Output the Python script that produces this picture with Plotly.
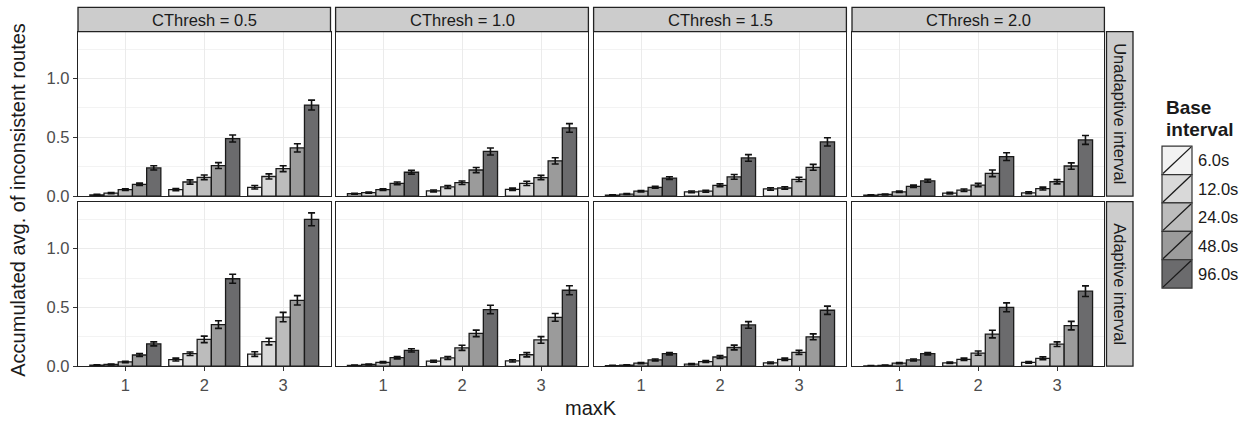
import plotly.graph_objects as go

W, H = 1247, 429

max_k = [1, 2, 3]
cthresh_labels = ["CThresh = 0.5", "CThresh = 1.0", "CThresh = 1.5", "CThresh = 2.0"]
row_labels = ["Unadaptive interval", "Adaptive interval"]
intervals = ["6.0s", "12.0s", "24.0s", "48.0s", "96.0s"]
fill_colors = ["#f2f2f2", "#d9d9d9", "#bcbcbc", "#9b9b9b", "#6b6b6d"]
y_ticks = [0.0, 0.5, 1.0]
y_tick_text = ["0.0", "0.5", "1.0"]

# mean values: one list per base interval, over maxK = 1, 2, 3
unadapt_c05 = [[0.011, 0.055, 0.075], [0.025, 0.12, 0.167], [0.055, 0.16, 0.233], [0.10, 0.26, 0.41], [0.24, 0.49, 0.775]]
unadapt_c10 = [[0.02, 0.044, 0.058], [0.03, 0.078, 0.108], [0.055, 0.114, 0.158], [0.108, 0.222, 0.30], [0.203, 0.38, 0.58]]
unadapt_c15 = [[0.008, 0.036, 0.061], [0.017, 0.042, 0.069], [0.042, 0.092, 0.142], [0.075, 0.164, 0.245], [0.153, 0.325, 0.461]]
unadapt_c20 = [[0.008, 0.025, 0.028], [0.014, 0.05, 0.064], [0.036, 0.094, 0.122], [0.083, 0.194, 0.256], [0.13, 0.336, 0.478]]
adapt_c05 = [[0.008, 0.056, 0.103], [0.014, 0.106, 0.209], [0.036, 0.228, 0.418], [0.095, 0.354, 0.56], [0.19, 0.744, 1.25]]
adapt_c10 = [[0.006, 0.042, 0.045], [0.014, 0.07, 0.097], [0.033, 0.156, 0.223], [0.072, 0.279, 0.415], [0.134, 0.482, 0.646]]
adapt_c15 = [[0.005, 0.017, 0.028], [0.008, 0.039, 0.058], [0.025, 0.078, 0.117], [0.053, 0.159, 0.25], [0.106, 0.351, 0.476]]
adapt_c20 = [[0.003, 0.028, 0.033], [0.006, 0.058, 0.067], [0.025, 0.111, 0.187], [0.053, 0.273, 0.345], [0.106, 0.501, 0.638]]

# error bar half-lengths, same layout
unadapt_c05_err = [[0.004, 0.01, 0.015], [0.005, 0.018, 0.022], [0.007, 0.02, 0.025], [0.01, 0.025, 0.035], [0.018, 0.03, 0.042]]
unadapt_c10_err = [[0.004, 0.008, 0.01], [0.005, 0.012, 0.018], [0.007, 0.015, 0.018], [0.012, 0.022, 0.027], [0.016, 0.03, 0.037]]
unadapt_c15_err = [[0.003, 0.008, 0.01], [0.004, 0.008, 0.01], [0.006, 0.012, 0.018], [0.008, 0.02, 0.025], [0.012, 0.028, 0.035]]
unadapt_c20_err = [[0.003, 0.007, 0.008], [0.004, 0.01, 0.012], [0.006, 0.014, 0.018], [0.01, 0.028, 0.027], [0.012, 0.033, 0.038]]
adapt_c05_err = [[0.003, 0.012, 0.02], [0.004, 0.015, 0.028], [0.006, 0.028, 0.04], [0.012, 0.032, 0.04], [0.017, 0.038, 0.055]]
adapt_c10_err = [[0.003, 0.008, 0.01], [0.004, 0.012, 0.018], [0.006, 0.022, 0.028], [0.01, 0.028, 0.033], [0.014, 0.036, 0.038]]
adapt_c15_err = [[0.002, 0.005, 0.007], [0.003, 0.008, 0.01], [0.005, 0.012, 0.017], [0.008, 0.02, 0.025], [0.01, 0.028, 0.035]]
adapt_c20_err = [[0.002, 0.006, 0.007], [0.003, 0.01, 0.012], [0.005, 0.018, 0.02], [0.008, 0.032, 0.036], [0.01, 0.038, 0.045]]

panel_means = [[unadapt_c05, unadapt_c10, unadapt_c15, unadapt_c20],
               [adapt_c05, adapt_c10, adapt_c15, adapt_c20]]
panel_errs = [[unadapt_c05_err, unadapt_c10_err, unadapt_c15_err, unadapt_c20_err],
              [adapt_c05_err, adapt_c10_err, adapt_c15_err, adapt_c20_err]]

FONT = "Liberation Sans, Arial, Helvetica, sans-serif"
FS = 16.5
FS_TITLE = 20

def fx(x):
    return x / W

def fy(y):
    return 1 - y / H

col_px = [(78, 330.5), (335.6, 588.4), (593.6, 846.4), (852, 1104.4)]
row_px = [(32.3, 200.3), (206, 374)]

fig = go.Figure()
layout = dict(
    width=W, height=H, autosize=False,
    margin=dict(l=0, r=0, t=0, b=0),
    paper_bgcolor="white", plot_bgcolor="white",
    barmode="group", bargap=0.1, bargroupgap=0,
    showlegend=False,
    font=dict(family=FONT, size=FS, color="#1a1a1a"),
)

shapes = []
annotations = []

for r in range(2):
    for c in range(4):
        idx = r * 4 + c + 1
        xa = "x" if idx == 1 else f"x{idx}"
        ya = "y" if idx == 1 else f"y{idx}"
        xkey = "xaxis" if idx == 1 else f"xaxis{idx}"
        ykey = "yaxis" if idx == 1 else f"yaxis{idx}"
        x0, x1 = col_px[c]
        y0, y1 = row_px[r]
        for s, name in enumerate(intervals):
            fig.add_trace(go.Bar(
                x=max_k, y=panel_means[r][c][s], name=name,
                xaxis=xa, yaxis=ya, offsetgroup=str(s),
                marker=dict(color=fill_colors[s], line=dict(color="#1a1a1a", width=1.3)),
                error_y=dict(type="data", array=panel_errs[r][c][s], color="#111111",
                             thickness=1.6, width=3.5),
                showlegend=False,
            ))
        layout[xkey] = dict(
            domain=[fx(x0), fx(x1)], anchor=ya, range=[0.4, 3.6],
            tickvals=max_k, ticktext=[str(k) for k in max_k],
            showticklabels=(r == 1), ticks="outside" if r == 1 else "",
            ticklen=4, tickcolor="#333333", tickwidth=1.1,
            tickfont=dict(family=FONT, size=FS, color="#4d4d4d"),
            showgrid=True, gridcolor="#ebebeb", gridwidth=1.1,
            showline=True, mirror=True, linecolor="#222222", linewidth=1.3,
            zeroline=False, fixedrange=True,
        )
        layout[ykey] = dict(
            domain=[fy(y1), fy(y0)], anchor=xa, range=[0, 1.4],
            tickvals=y_ticks, ticktext=y_tick_text,
            showticklabels=(c == 0), ticks="outside" if c == 0 else "",
            ticklen=4, tickcolor="#333333", tickwidth=1.1,
            tickfont=dict(family=FONT, size=FS, color="#4d4d4d"),
            showgrid=True, gridcolor="#ebebeb", gridwidth=1.1,
            minor=dict(tickvals=[0.25, 0.75, 1.25], showgrid=True, gridcolor="#f3f3f3", gridwidth=0.6, ticks=""),
            showline=True, mirror=True, linecolor="#222222", linewidth=1.3,
            zeroline=False, fixedrange=True,
        )

# top strips
for c in range(4):
    x0, x1 = col_px[c]
    shapes.append(dict(type="rect", xref="paper", yref="paper",
                       x0=fx(x0), x1=fx(x1), y0=fy(32.3), y1=fy(7.5),
                       fillcolor="#cccccc", line=dict(color="#222222", width=1.3), layer="above"))
    annotations.append(dict(xref="paper", yref="paper", x=fx((x0 + x1) / 2), y=fy(20),
                            text=cthresh_labels[c], showarrow=False, xanchor="center", yanchor="middle",
                            font=dict(family=FONT, size=FS, color="#1a1a1a")))

# right strips
for r in range(2):
    y0, y1 = row_px[r]
    shapes.append(dict(type="rect", xref="paper", yref="paper",
                       x0=fx(1106.5), x1=fx(1133), y0=fy(y1), y1=fy(y0),
                       fillcolor="#cccccc", line=dict(color="#222222", width=1.3), layer="above"))
    annotations.append(dict(xref="paper", yref="paper", x=fx(1119.7), y=fy((y0 + y1) / 2),
                            text=row_labels[r], showarrow=False, textangle=90,
                            xanchor="center", yanchor="middle",
                            font=dict(family=FONT, size=FS, color="#1a1a1a")))

# axis titles
annotations.append(dict(xref="paper", yref="paper", x=fx(18), y=fy(204),
                        text="Accumulated avg. of inconsistent routes", showarrow=False, textangle=-90,
                        xanchor="center", yanchor="middle",
                        font=dict(family=FONT, size=FS_TITLE, color="#1a1a1a")))
annotations.append(dict(xref="paper", yref="paper", x=fx(591), y=fy(417),
                        text="maxK", showarrow=False, xanchor="center", yanchor="middle",
                        font=dict(family=FONT, size=FS_TITLE, color="#1a1a1a")))

# legend (manual)
for txt, cy in (("Base", 110), ("interval", 132)):
    annotations.append(dict(xref="paper", yref="paper", x=fx(1164), y=fy(cy),
                            text=f"<b>{txt}</b>", showarrow=False, xanchor="left", yanchor="middle",
                            align="left", font=dict(family=FONT, size=19, color="#1a1a1a")))
key_top = 149.3
key_h = 29
for s, name in enumerate(intervals):
    ty = key_top + s * key_h
    by = ty + key_h
    shapes.append(dict(type="rect", xref="paper", yref="paper",
                       x0=fx(1162), x1=fx(1192), y0=fy(by), y1=fy(ty),
                       fillcolor=fill_colors[s], line=dict(color="#333333", width=1.2)))
    shapes.append(dict(type="line", xref="paper", yref="paper",
                       x0=fx(1163), x1=fx(1191), y0=fy(by - 1), y1=fy(ty + 1),
                       line=dict(color="#1a1a1a", width=1.3)))
    annotations.append(dict(xref="paper", yref="paper", x=fx(1196), y=fy(ty + key_h / 2),
                            text=name, showarrow=False, xanchor="left", yanchor="middle",
                            font=dict(family=FONT, size=FS, color="#1a1a1a")))

layout["shapes"] = shapes
layout["annotations"] = annotations
fig.update_layout(**layout)
fig.write_html("out.html", config={"displayModeBar": False},
               post_script="document.body.style.margin='0px';document.body.style.overflow='hidden';")
